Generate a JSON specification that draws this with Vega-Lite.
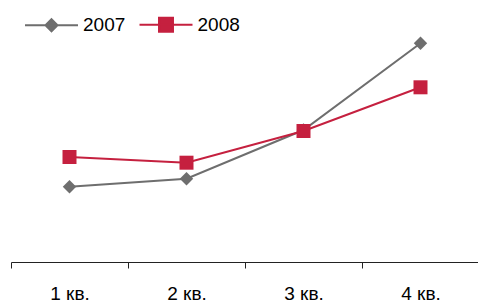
{
  "$schema": "https://vega.github.io/schema/vega-lite/v6.json",
  "width": 468,
  "height": 262,
  "padding": {"left": 10, "top": 0, "right": 0, "bottom": 0},
  "background": "white",
  "config": {
    "view": {"stroke": null},
    "font": "Liberation Sans"
  },
  "data": {
    "values": [
      {"q": "1 кв.", "year": "2007", "v": 75.3},
      {"q": "2 кв.", "year": "2007", "v": 83.3},
      {"q": "3 кв.", "year": "2007", "v": 132},
      {"q": "4 кв.", "year": "2007", "v": 218.7},
      {"q": "1 кв.", "year": "2008", "v": 105},
      {"q": "2 кв.", "year": "2008", "v": 99.3},
      {"q": "3 кв.", "year": "2008", "v": 131},
      {"q": "4 кв.", "year": "2008", "v": 174.7}
    ]
  },
  "encoding": {
    "x": {
      "field": "q",
      "type": "nominal",
      "sort": null,
      "scale": {"type": "band", "paddingInner": 0, "paddingOuter": 0},
      "axis": {
        "title": null,
        "labelAngle": 0,
        "tickBand": "extent",
        "domainColor": "#222222",
        "tickColor": "#222222",
        "tickSize": 6,
        "labelFontSize": 19,
        "labelColor": "#000000",
        "labelPadding": 16,
        "labelFont": "Liberation Sans"
      }
    },
    "y": {
      "field": "v",
      "type": "quantitative",
      "scale": {"domain": [0, 262], "nice": false, "zero": true},
      "axis": null
    },
    "color": {
      "field": "year",
      "type": "nominal",
      "scale": {"domain": ["2007", "2008"], "range": ["#6e6e6e", "#c5203f"]},
      "legend": {
        "title": null,
        "orient": "none",
        "direction": "horizontal",
        "legendX": 31,
        "legendY": 15,
        "padding": 0,
        "symbolSize": 78,
        "symbolStrokeWidth": 2,
        "labelFontSize": 19,
        "labelFont": "Liberation Sans",
        "labelColor": "#000000",
        "labelOffset": 22,
        "columnPadding": 9.5,
        "encode": {
          "symbols": {
            "update": {
              "shape": {"signal": "datum.value === '2007' ? 'M-6,0H6M0,-1.36L1.36,0L0,1.36L-1.36,0Z' : 'M-6,0H6M-1.58,-1.58H1.58V1.58H-1.58Z'"},
              "fill": {"signal": "scale('color', datum.value)"},
              "stroke": {"signal": "scale('color', datum.value)"},
              "fillOpacity": {"value": 1},
              "strokeWidth": {"value": 2}
            }
          }
        }
      }
    }
  },
  "layer": [
    {"mark": {"type": "line", "strokeWidth": 2}},
    {
      "transform": [{"filter": "datum.year === '2007'"}],
      "mark": {"type": "point", "shape": "diamond", "filled": true, "opacity": 1, "size": 180}
    },
    {
      "transform": [{"filter": "datum.year === '2008'"}],
      "mark": {"type": "point", "shape": "square", "filled": true, "opacity": 1, "size": 196}
    }
  ]
}
